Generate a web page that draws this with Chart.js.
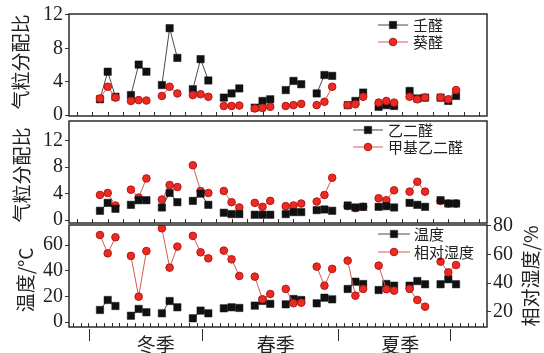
<!DOCTYPE html>
<html>
<head>
<meta charset="utf-8">
<script src="https://cdn.jsdelivr.net/npm/chart.js@4.4.0/dist/chart.umd.min.js"></script>
<style>
  body { margin: 0; background: #fff; }
  #wrap { position: relative; width: 544px; height: 353px; }
  canvas { position: absolute; left: 0; top: 0; }
</style>
</head>
<body>
<div id="wrap">
  <canvas id="c1" width="544" height="353"></canvas>
  <canvas id="c2" width="544" height="353"></canvas>
  <canvas id="c3" width="544" height="353"></canvas>
</div>
<script>
// 12 组采样，每组 3 个样品（冬季 4 组，春季 4 组，夏季 4 组）
const seasons = ["冬季", "春季", "夏季"];

// 上图：气粒分配比
const nonanal = [1.9, 5.2, 2.2, 2.4, 6.05, 5.2, 3.6, 10.4, 6.85, 3.1, 6.7, 4.15,
  2.1, 2.6, 3.2, 0.9, 1.7, 1.9, 3.0, 4.1, 3.7, 2.6, 4.8, 4.7,
  1.2, 1.7, 2.7, 1.0, 1.2, 1.1, 2.9, 2.0, 2.1, 2.1, 1.7, 2.3];
const decanal = [2.0, 3.4, 2.1, 1.7, 1.8, 1.75, 2.3, 3.4, 2.6, 2.4, 2.5, 2.2,
  1.1, 1.1, 1.15, 0.8, 0.85, 1.0, 1.1, 1.2, 1.35, 1.2, 1.6, 3.4,
  1.2, 1.3, 2.2, 1.5, 1.7, 1.5, 2.2, 1.9, 2.1, 2.1, 1.9, 3.0];

// 中图
const glyoxal = [1.4, 2.6, 1.7, 2.3, 3.0, 3.0, 1.9, 4.1, 2.7, 2.9, 4.0, 2.3,
  1.1, 0.9, 0.9, 0.8, 0.8, 0.8, 0.9, 1.2, 1.2, 1.5, 1.6, 1.4,
  2.2, 1.9, 2.0, 2.0, 2.1, 1.9, 2.6, 2.3, 2.0, 3.0, 2.5, 2.5];
const methylglyoxal = [3.8, 4.1, 2.2, 4.6, 3.4, 6.3, 3.1, 5.3, 5.0, 8.3, 4.4, 4.1,
  4.4, 2.7, 1.9, 2.6, 2.0, 2.9, 2.1, 2.2, 2.5, 2.8, 3.8, 6.4,
  2.1, 1.8, 2.0, 3.3, 3.0, 4.5, 4.3, 5.8, 4.3, 2.9, 2.5, 2.5];

// 下图：温度 / 相对湿度
const temperature = [9.4, 17.2, 12.5, 4.9, 10.2, 7.6, 6.8, 16.4, 11.5, 2.9, 8.9, 6.8,
  10.7, 11.5, 11.0, 12.8, 16.5, 14.2, 13.8, 18.0, 17.2, 14.6, 19.0, 17.7,
  25.8, 31.5, 29.7, 25.0, 29.7, 28.4, 28.4, 32.0, 29.5, 29.5, 33.4, 29.5];
const humidity = [73.6, 60.8, 72.0, 59.0, 30.5, 62.4, 78.3, 50.8, 65.5, 73.0, 61.5, 57.3,
  62.7, 56.6, 45.0, 44.5, 28.7, 32.4, 35.9, 25.9, 26.3, 51.5, 38.2, 49.9,
  55.7, 31.2, 35.9, 52.2, 35.7, 34.7, 35.9, 28.2, 23.5, 55.0, 47.5, 52.6];

const ratioTicks = [0, 4, 8, 12];
const tempTicks = [0, 20, 40, 60];
const rhTicks = [20, 40, 60, 80];

const serif = "'Liberation Serif', 'Times New Roman', serif";
const cjk = "'Noto Sans CJK SC', sans-serif";

// 每组三个点连线，组间断开
function toPoints(vals) {
  const pts = [];
  vals.forEach((v, k) => {
    const g = Math.floor(k / 3), i = k % 3;
    pts.push({ x: 4 + 4 * g + i, y: v });
    if (i === 2) pts.push({ x: 4 + 4 * g + 3, y: null });
  });
  return pts;
}

function squares(label, vals, order, yID) {
  return {
    label, data: toPoints(vals), order, yAxisID: yID || 'y',
    borderColor: '#4a4a4a', borderWidth: 1, tension: 0, spanGaps: false,
    pointStyle: 'rect', pointRadius: 5.2,
    pointBackgroundColor: '#111', pointBorderColor: '#111', pointBorderWidth: 0.5
  };
}
function circles(label, vals, order, yID) {
  return {
    label, data: toPoints(vals), order, yAxisID: yID || 'y',
    borderColor: '#d65a50', borderWidth: 1, tension: 0, spanGaps: false,
    pointStyle: 'circle', pointRadius: 3.8,
    pointBackgroundColor: '#ec2a20', pointBorderColor: '#b3161a', pointBorderWidth: 1
  };
}

function yAxis(min, max, ticks, position, width) {
  return {
    type: 'linear', position, min, max,
    afterBuildTicks: s => { s.ticks = ticks.map(v => ({ value: v })); },
    afterFit: s => { s.width = width; },
    grid: { drawOnChartArea: false, tickLength: 4, tickColor: '#333', lineWidth: 1 },
    border: { display: false },
    ticks: { font: { family: serif, size: 20 }, color: '#222', padding: 2 }
  };
}

const framePlugin = {
  id: 'frame',
  afterDraw(chart, args, o) {
    const { ctx, chartArea: a, scales } = chart;
    const x = scales.x;
    ctx.save();
    // 边框
    ctx.strokeStyle = '#2b2b2b';
    ctx.lineWidth = 1.5;
    ctx.strokeRect(a.left, a.top, a.right - a.left, a.bottom - a.top);
    // x 轴小刻度（朝内）
    ctx.lineWidth = 1;
    ctx.beginPath();
    o.xTicks.forEach(v => {
      const px = Math.round(x.getPixelForValue(v)) + 0.5;
      ctx.moveTo(px, a.bottom);
      ctx.lineTo(px, a.bottom - 4);
    });
    ctx.stroke();
    // 季节分隔与标签
    if (o.dividers) {
      ctx.beginPath();
      o.dividers.forEach(v => {
        const px = Math.round(x.getPixelForValue(v)) + 0.5;
        ctx.moveTo(px, a.bottom + 2);
        ctx.lineTo(px, a.bottom + 14);
      });
      ctx.stroke();
      ctx.fillStyle = '#222';
      ctx.font = '19px ' + cjk;
      ctx.textAlign = 'center';
      ctx.textBaseline = 'middle';
      seasons.forEach((s, i) => ctx.fillText(s, x.getPixelForValue(o.seasonAt[i]), a.bottom + 18));
    }
    // 图例
    const L = o.legend;
    chart.data.datasets.forEach((ds, i) => {
      const y = L.rows[i];
      ctx.strokeStyle = ds.borderColor;
      ctx.lineWidth = 1;
      ctx.beginPath();
      ctx.moveTo(L.x0, y); ctx.lineTo(L.x1, y);
      ctx.stroke();
      ctx.fillStyle = ds.pointBackgroundColor;
      ctx.strokeStyle = ds.pointBorderColor;
      ctx.lineWidth = ds.pointBorderWidth;
      Chart.helpers.drawPoint(ctx, { pointStyle: ds.pointStyle, radius: ds.pointRadius, rotation: 0, borderWidth: ds.pointBorderWidth }, (L.x0 + L.x1) / 2, y);
      ctx.fillStyle = '#222';
      ctx.font = '15px ' + cjk;
      ctx.textAlign = 'left';
      ctx.textBaseline = 'middle';
      ctx.fillText(ds.label, L.tx, y);
    });
    // 纵轴标题（自下而上）
    ctx.fillStyle = '#222';
    ctx.font = '19px ' + cjk;
    ctx.textAlign = 'center';
    ctx.textBaseline = 'middle';
    o.titles.forEach(t => {
      ctx.save();
      ctx.translate(t.x, t.y);
      ctx.rotate(-Math.PI / 2);
      ctx.fillText(t.text, 0, 0);
      ctx.restore();
    });
    ctx.restore();
  }
};

const oddTicks = [];
for (let v = 1; v < 54; v += 2) oddTicks.push(v);
const halfTicks = [];
for (let v = 0.5; v < 54; v += 1) halfTicks.push(v);

function panel(id, datasets, scales, padding, frame) {
  return new Chart(document.getElementById(id), {
    type: 'line',
    data: { datasets },
    options: {
      responsive: false,
      animation: false,
      layout: { padding },
      plugins: { legend: { display: false }, tooltip: { enabled: false }, frame },
      scales: Object.assign({ x: { type: 'linear', min: 0, max: 54, display: false } }, scales)
    },
    plugins: [framePlugin]
  });
}

panel('c1',
  [squares('壬醛', nonanal, 2), circles('葵醛', decanal, 1)],
  { y: yAxis(-0.1, 12.1, ratioTicks, 'left', 69) },
  { left: 0, right: 57, top: 14, bottom: 237 },
  { xTicks: oddTicks, legend: { x0: 378, x1: 408, tx: 413, rows: [25, 42] },
    titles: [{ text: '气粒分配比', x: 21, y: 62 }] });

panel('c2',
  [squares('乙二醛', glyoxal, 1), circles('甲基乙二醛', methylglyoxal, 2)],
  { y: yAxis(-0.45, 15, ratioTicks, 'left', 69) },
  { left: 0, right: 57, top: 121, bottom: 130 },
  { xTicks: oddTicks, legend: { x0: 353, x1: 383, tx: 388, rows: [130, 147] },
    titles: [{ text: '气粒分配比', x: 22, y: 175 }] });

panel('c3',
  [squares('温度', temperature, 2, 'y'), circles('相对湿度', humidity, 1, 'y2')],
  { y: yAxis(-3.9, 75.8, tempTicks, 'left', 69),
    y2: yAxis(9.3, 80.6, rhTicks, 'right', 57) },
  { left: 0, right: 0, top: 225, bottom: 26 },
  { xTicks: halfTicks, dividers: [2.6, 17.2, 34.7, 49.2], seasonAt: [11.2, 26.7, 42.8],
    legend: { x0: 378, x1: 410, tx: 414, rows: [234, 252] },
    titles: [{ text: '温度/°C', x: 26, y: 280 }, { text: '相对湿度/%', x: 531, y: 276 }] });
</script>
</body>
</html>
